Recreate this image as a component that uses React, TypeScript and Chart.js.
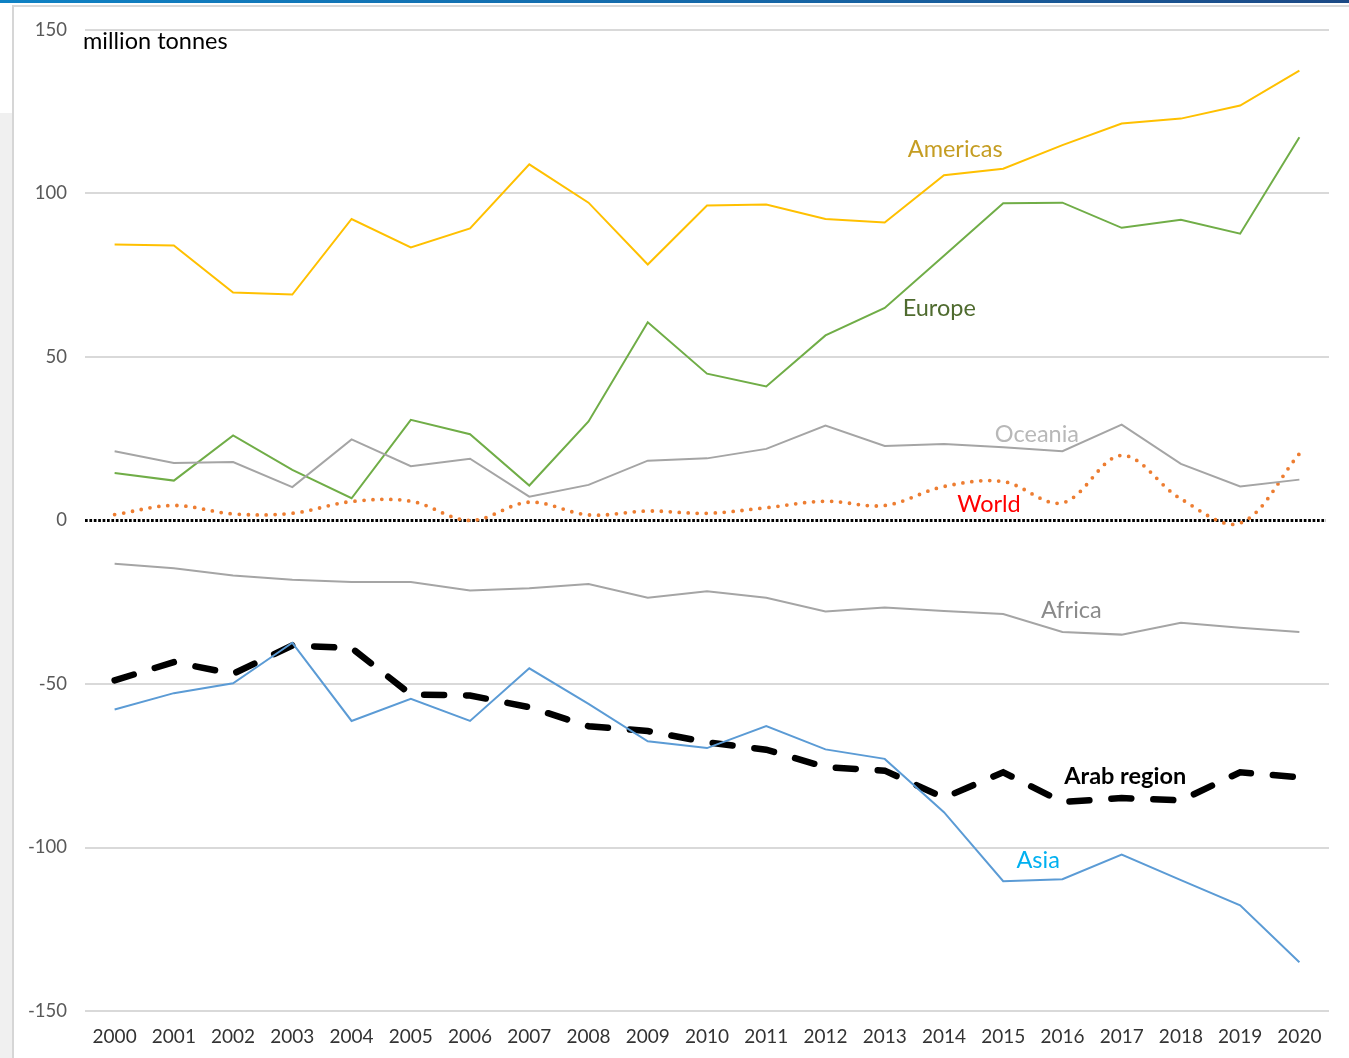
import React, { useEffect, useRef } from "react";
import { Chart, registerables } from "chart.js";

Chart.register(...registerables);

const years = ["2000","2001","2002","2003","2004","2005","2006","2007","2008","2009","2010","2011","2012","2013","2014","2015","2016","2017","2018","2019","2020"];

const americas = [84.4, 84.1, 69.7, 69.1, 92.2, 83.5, 89.3, 108.9, 97.2, 78.3, 96.3, 96.6, 92.2, 91.1, 105.6, 107.6, 114.8, 121.4, 122.9, 126.9, 137.6];
const europe = [14.5, 12.2, 26.0, 15.5, 6.8, 30.8, 26.4, 10.7, 30.3, 60.6, 44.9, 41.0, 56.6, 65.0, 81.0, 97.0, 97.2, 89.5, 92.0, 87.7, 117.2];
const oceania = [21.2, 17.6, 17.9, 10.2, 24.8, 16.6, 18.9, 7.3, 10.9, 18.3, 19.0, 21.9, 29.0, 22.8, 23.4, 22.4, 21.2, 29.3, 17.3, 10.4, 12.5];
const world = [1.8, 4.6, 2.0, 2.2, 5.8, 5.9, 0.0, 5.6, 1.7, 2.9, 2.2, 3.9, 5.9, 4.6, 10.4, 11.9, 5.4, 19.9, 6.6, -0.8, 20.4];
const africa = [-13.2, -14.6, -16.8, -18.1, -18.8, -18.8, -21.4, -20.7, -19.4, -23.6, -21.6, -23.6, -27.8, -26.6, -27.7, -28.6, -34.1, -34.9, -31.3, -32.8, -34.1];
const asia = [-57.8, -52.8, -49.8, -37.4, -61.3, -54.5, -61.3, -45.2, -56.1, -67.5, -69.6, -62.9, -70.0, -72.9, -89.2, -110.3, -109.7, -102.2, -110.0, -117.7, -135.1];
const arabRegion = [-48.9, -43.3, -46.9, -38.2, -39.0, -53.2, -53.5, -57.1, -62.9, -64.4, -67.8, -70.1, -75.4, -76.5, -84.8, -77.0, -86.1, -84.9, -85.6, -77.0, -78.5];

const yTicks = [-150, -100, -50, 0, 50, 100, 150];

const FONT = "Lato, 'Open Sans', sans-serif";

type Note = { text: string; idx: number; val: number; color: string; bold?: boolean };
const notes: Note[] = [
  { text: "Americas", idx: 14.19, val: 113.5, color: "#c59d22" },
  { text: "Europe", idx: 13.92, val: 64.8, color: "#4f6b2f" },
  { text: "Oceania", idx: 15.57, val: 26.3, color: "#b8b8b8" },
  { text: "World", idx: 14.76, val: 4.9, color: "#ff0000" },
  { text: "Africa", idx: 16.15, val: -27.5, color: "#8a8a8a" },
  { text: "Arab region", idx: 17.06, val: -78.3, color: "#000000", bold: true },
  { text: "Asia", idx: 15.59, val: -104.0, color: "#00b0f0" },
];

const annotatePlugin = {
  id: "annotate",
  beforeDatasetsDraw(chart: any) {
    const { ctx, chartArea, scales } = chart;
    const y0 = scales.y.getPixelForValue(0);
    ctx.save();
    ctx.strokeStyle = "#000000";
    ctx.lineWidth = 3;
    ctx.setLineDash([2.7, 1.7]);
    ctx.beginPath();
    ctx.moveTo(chartArea.left, y0);
    ctx.lineTo(chartArea.right - 3, y0);
    ctx.stroke();
    ctx.restore();
  },
  afterDatasetsDraw(chart: any) {
    const { ctx, chartArea, scales } = chart;
    ctx.save();
    ctx.textBaseline = "middle";
    for (const n of notes) {
      ctx.font = `${n.bold ? "bold " : ""}23.5px ${FONT}`;
      ctx.fillStyle = n.color;
      ctx.textAlign = "center";
      ctx.fillText(n.text, scales.x.getPixelForValue(n.idx), scales.y.getPixelForValue(n.val));
    }
    ctx.font = `23.5px ${FONT}`;
    ctx.fillStyle = "#000000";
    ctx.textAlign = "left";
    ctx.fillText("million tonnes", chartArea.left - 2, scales.y.getPixelForValue(146.6));
    ctx.restore();
  },
};

export default function App() {
  const ref = useRef<HTMLCanvasElement | null>(null);
  useEffect(() => {
    if (!ref.current) return;
    const line = (label: string, data: number[], color: string, extra: any = {}) => ({
      label,
      data,
      borderColor: color,
      backgroundColor: color,
      borderWidth: 2,
      pointRadius: 0,
      tension: 0,
      fill: false,
      ...extra,
    });
    const chart = new Chart(ref.current, {
      type: "line",
      data: {
        labels: years,
        datasets: [
          line("Africa", africa, "#a5a5a5"),
          line("Oceania", oceania, "#a5a5a5"),
          line("Europe", europe, "#70ad47"),
          line("Americas", americas, "#ffc000"),
          line("Asia", asia, "#5b9bd5"),
          line("World", world, "#ed7d31", { borderWidth: 3.8, borderDash: [0, 9], borderCapStyle: "round", tension: 0.35 }),
          line("Arab region", arabRegion, "#000000", { borderWidth: 6.5, borderDash: [20, 22], borderCapStyle: "round" }),
        ],
      },
      plugins: [annotatePlugin],
      options: {
        animation: false,
        responsive: false,
        maintainAspectRatio: false,
        layout: { padding: { top: 30, right: 20, bottom: 0, left: 0 } },
        plugins: { legend: { display: false }, tooltip: { enabled: false } },
        scales: {
          x: {
            type: "category",
            offset: true,
            grid: { display: false, drawTicks: false },
            border: { display: false },
            ticks: { color: "#333333", font: { family: FONT, size: 19 }, padding: 14, maxRotation: 0, autoSkip: false },
            afterFit: (s: any) => { s.height = 47; },
          },
          y: {
            min: -150,
            max: 150,
            afterBuildTicks: (s: any) => { s.ticks = yTicks.map((v) => ({ value: v })); },
            grid: {
              drawTicks: false,
              lineWidth: 2,
              color: (c: any) => (c.tick && c.tick.value === 0 ? "rgba(0,0,0,0)" : "#d9d9d9"),
            },
            border: { display: false },
            ticks: { color: "#595959", font: { family: FONT, size: 18.5 }, padding: 18 },
            afterFit: (s: any) => { s.width = 85; },
          },
        },
      },
    });
    return () => chart.destroy();
  }, []);

  return (
    <div style={{ position: "fixed", left: 0, top: 0, width: 1349, height: 1058, background: "#ffffff", overflow: "hidden" }}>
      <div style={{ position: "absolute", left: 0, top: 0, width: 1349, height: 3, background: "linear-gradient(90deg, #0f82c4 0%, #1668a8 55%, #1d4a86 100%)" }} />
      <div style={{ position: "absolute", left: 12, top: 5, width: 1337, height: 2, background: "#dadada" }} />
      <div style={{ position: "absolute", left: 0, top: 113, width: 12, height: 945, background: "#f0f0f0" }} />
      <div style={{ position: "absolute", left: 12, top: 5, width: 2, height: 1053, background: "#d6d6d6" }} />
      <canvas ref={ref} width={1349} height={1058} style={{ position: "absolute", left: 0, top: 0, width: 1349, height: 1058 }} />
    </div>
  );
}
